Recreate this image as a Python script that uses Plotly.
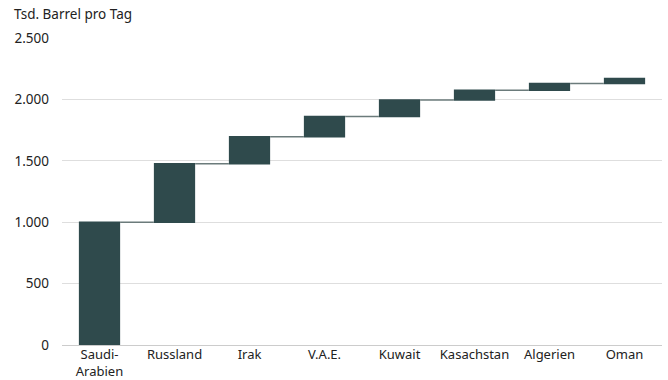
import plotly.graph_objects as go

categories = ["Saudi-<br>Arabien", "Russland", "Irak", "V.A.E.", "Kuwait", "Kasachstan", "Algerien", "Oman"]
increments = [1000, 475, 220, 165, 135, 80, 55, 40]
y_ticks = [0, 500, 1000, 1500, 2000, 2500]

fig = go.Figure(go.Waterfall(
    x=categories,
    y=increments,
    measure=["relative"] * len(increments),
    increasing=dict(marker=dict(color="#2f4a4c")),
    connector=dict(line=dict(color="#6b7b7b", width=1.5)),
    textposition="none",
    hoverinfo="skip",
))

fig.update_layout(
    width=668, height=380,
    margin=dict(l=62, r=6, t=38, b=35),
    paper_bgcolor="white", plot_bgcolor="white",
    separators=",.",
    waterfallgap=0.45,
    showlegend=False,
    font=dict(family="Noto Sans", size=13.5, color="#222222"),
    annotations=[dict(text="Tsd. Barrel pro Tag", xref="paper", yref="paper",
                      x=-50/600, y=1.0, yshift=13, xanchor="left", yanchor="bottom",
                      showarrow=False, font=dict(size=13.5, color="#222222"))],
)
fig.update_yaxes(range=[0, 2500], tickvals=y_ticks, tickformat=",d",
                 showgrid=True, gridcolor="#dedede", gridwidth=1,
                 zeroline=True, zerolinecolor="#cccccc", zerolinewidth=1,
                 ticks="", ticklabelstandoff=12, automargin=False)
fig.update_xaxes(showgrid=False, ticks="", showline=False, automargin=False,
                 ticklabelstandoff=0, tickfont=dict(size=13))

fig.write_html("out.html")
